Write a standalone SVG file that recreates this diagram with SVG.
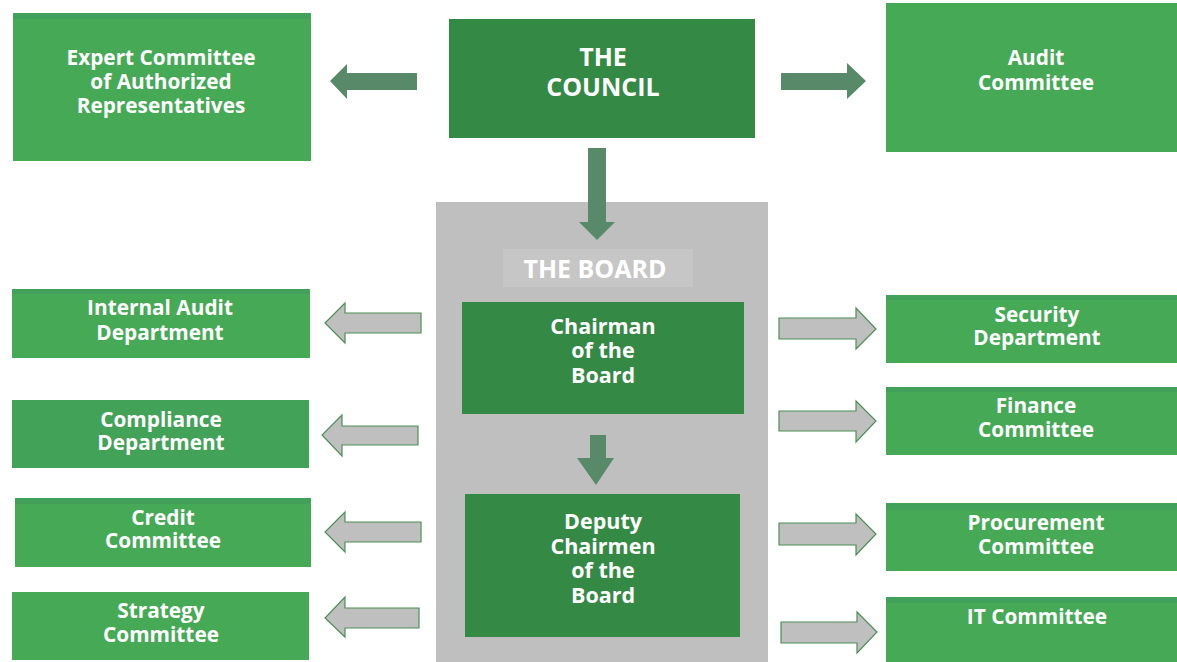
<svg xmlns="http://www.w3.org/2000/svg" width="1177" height="662" viewBox="0 0 1177 662">
<style>
.lg{fill:#45a956}
.top{fill:#41a05a}
.dg{fill:#348a45}
.t{font-family:"Open Sans","Noto Sans","Liberation Sans",sans-serif;font-weight:bold;fill:#ffffff;text-anchor:middle}
.s20{font-size:20.8px}
.s21{font-size:21.5px}
.s25{font-size:25px}
.solid{fill:#588a69}
.outl{fill:#bfbfbf;stroke:#4e8e57;stroke-width:1.2}
</style>
<rect width="1177" height="662" fill="#ffffff"/>
<g id="board-container">
<rect x="436" y="202" width="332" height="460" fill="#bfbfbf"/>
<rect x="503" y="249" width="190" height="38" fill="#c6c6c6"/>
<text class="t s25" x="595" y="278">THE BOARD</text>
</g>
<g id="expert">
<rect class="lg" x="13" y="13" width="298" height="148"/>
<rect class="top" x="13" y="13" width="297" height="6"/>
<text class="t s20" x="161" y="65">Expert Committee</text>
<text class="t s20" x="161" y="89">of Authorized</text>
<text class="t s20" x="161" y="113">Representatives</text>
</g>
<g id="council">
<rect class="dg" x="449" y="19" width="306" height="119"/>
<text class="t s25" x="603" y="66">THE</text>
<text class="t s25" x="603" y="96">COUNCIL</text>
</g>
<g id="audit">
<rect class="lg" x="886" y="3" width="291" height="149"/>
<text class="t s20" x="1036" y="65">Audit</text>
<text class="t s20" x="1036" y="90">Committee</text>
</g>
<g id="chairman">
<rect class="dg" x="462" y="302" width="282" height="112"/>
<text class="t s21" x="603" y="334">Chairman</text>
<text class="t s21" x="603" y="358">of the</text>
<text class="t s21" x="603" y="383">Board</text>
</g>
<g id="deputy">
<rect class="dg" x="465" y="494" width="275" height="143"/>
<text class="t s21" x="603" y="529">Deputy</text>
<text class="t s21" x="603" y="554">Chairmen</text>
<text class="t s21" x="603" y="578">of the</text>
<text class="t s21" x="603" y="603">Board</text>
</g>
<g id="internal-audit">
<rect class="lg" x="12" y="289" width="298" height="69"/>
<rect class="top" x="12" y="289" width="297" height="5"/>
<text class="t s20" x="160" y="315">Internal Audit</text>
<text class="t s20" x="160" y="340">Department</text>
</g>
<g id="compliance">
<rect x="12" y="400" width="297" height="68" fill="#42a258"/>
<text class="t s20" x="161" y="427">Compliance</text>
<text class="t s20" x="161" y="450">Department</text>
</g>
<g id="credit">
<rect class="lg" x="15" y="498" width="296" height="69"/>
<rect class="top" x="15" y="498" width="295" height="6"/>
<text class="t s20" x="163" y="525">Credit</text>
<text class="t s20" x="163" y="548">Committee</text>
</g>
<g id="strategy">
<rect class="lg" x="12" y="592" width="297" height="68"/>
<text class="t s20" x="161" y="618">Strategy</text>
<text class="t s20" x="161" y="642">Committee</text>
</g>
<g id="security">
<rect class="lg" x="886" y="295" width="291" height="68"/>
<rect class="top" x="886" y="295" width="291" height="5"/>
<text class="t s20" x="1037" y="322">Security</text>
<text class="t s20" x="1037" y="345">Department</text>
</g>
<g id="finance">
<rect class="lg" x="886" y="387" width="291" height="68"/>
<rect class="top" x="886" y="387" width="291" height="5"/>
<text class="t s20" x="1036" y="413">Finance</text>
<text class="t s20" x="1036" y="437">Committee</text>
</g>
<g id="procurement">
<rect class="lg" x="886" y="503" width="291" height="68"/>
<rect class="top" x="886" y="503" width="291" height="7"/>
<text class="t s20" x="1036" y="530">Procurement</text>
<text class="t s20" x="1036" y="554">Committee</text>
</g>
<g id="it">
<rect class="lg" x="886" y="597" width="291" height="65"/>
<rect class="top" x="886" y="597" width="291" height="6"/>
<text class="t s20" x="1037" y="624">IT Committee</text>
</g>
<g id="connectors">
<polygon class="solid" points="417,73 347,73 347,64 330,81 347,99 347,90 417,90"/>
<polygon class="solid" points="781,73 847,73 847,63 866,81 847,99 847,90 781,90"/>
<polygon class="solid" points="588,148 606,148 606,222 615,222 597,240 579,222 588,222"/>
<polygon class="solid" points="590,435 606,435 606,458 614,458 596,485 577,458 590,458"/>
<polygon class="outl" points="421,313 345,313 345,303 325,323 345,343 345,333 421,333"/>
<polygon class="outl" points="418,426 342,426 342,415 322,435 342,456 342,445 418,445"/>
<polygon class="outl" points="421,522 345,522 345,512 325,532 345,552 345,542 421,542"/>
<polygon class="outl" points="419,608 345,608 345,597 325,618 345,637 345,628 419,628"/>
<polygon class="outl" points="779,318 856,318 856,308 876,329 856,349 856,339 779,339"/>
<polygon class="outl" points="779,411 856,411 856,401 876,421 856,442 856,431 779,431"/>
<polygon class="outl" points="779,523 856,523 856,514 876,534 856,555 856,545 779,545"/>
<polygon class="outl" points="781,622 857,622 857,612 877,632 857,653 857,643 781,643"/>
</g>
</svg>
